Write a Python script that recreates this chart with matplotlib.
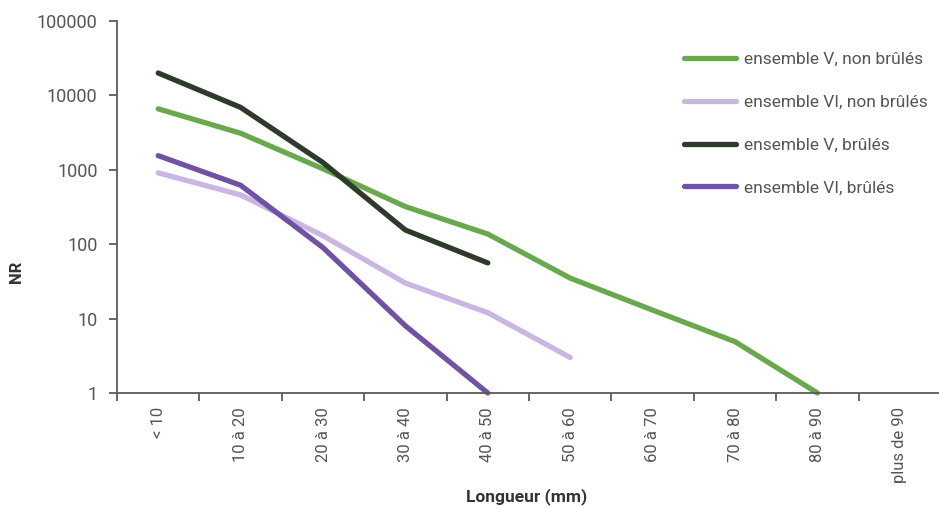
import numpy as np
import matplotlib.pyplot as plt
from matplotlib.ticker import FixedLocator, NullFormatter

plt.rcParams['font.family'] = ['Roboto', 'DejaVu Sans']

categories = ["< 10", "10 à 20", "20 à 30", "30 à 40", "40 à 50",
              "50 à 60", "60 à 70", "70 à 80", "80 à 90", "plus de 90"]

v_non_brules = [6600, 3100, 1030, 320, 137, 35, 13, 4.9, 1, np.nan]
vi_non_brules = [910, 460, 130, 30, 12, 3, np.nan, np.nan, np.nan, np.nan]
v_brules = [20000, 6900, 1250, 155, 56, np.nan, np.nan, np.nan, np.nan, np.nan]
vi_brules = [1550, 620, 90, 8, 1, np.nan, np.nan, np.nan, np.nan, np.nan]

series = [
    ("ensemble V, non brûlés", v_non_brules, "#6aa84f"),
    ("ensemble VI, non brûlés", vi_non_brules, "#c9b6e2"),
    ("ensemble V, brûlés", v_brules, "#2f3b2a"),
    ("ensemble VI, brûlés", vi_brules, "#6f52a3"),
]

fig = plt.figure(figsize=(9.39, 5.08), dpi=100)
ax = fig.add_axes([117 / 939, 1 - 393 / 508, 824 / 939, 372 / 508])

x = np.arange(len(categories)) + 0.5
for label, values, color in series:
    ax.plot(x, values, color=color, lw=3.8, label=label,
            solid_capstyle="round", solid_joinstyle="round", clip_on=False)

ax.set_yscale("log")
ax.set_ylim(1, 100000)
ax.set_xlim(0, len(categories))

yticks = [1, 10, 100, 1000, 10000, 100000]
ax.yaxis.set_major_locator(FixedLocator(yticks))
ax.yaxis.set_minor_locator(FixedLocator([]))
ax.set_yticklabels([str(t) for t in yticks])

ax.xaxis.set_major_locator(FixedLocator(np.arange(len(categories) + 1)))
ax.xaxis.set_major_formatter(NullFormatter())
ax.xaxis.set_minor_locator(FixedLocator(x))
ax.set_xticklabels(categories, minor=True, rotation=90, va="top")

spine_color = "#5a5a5a"
text_color = "#555555"
for side in ["top", "right"]:
    ax.spines[side].set_visible(False)
for side in ["left", "bottom"]:
    ax.spines[side].set_color(spine_color)
    ax.spines[side].set_linewidth(1.3)

ax.tick_params(axis="y", which="major", length=6, width=1.3, color=spine_color,
               labelsize=13, labelcolor=text_color, pad=8)
ax.tick_params(axis="x", which="major", length=6, width=1.3, color=spine_color)
ax.tick_params(axis="x", which="minor", length=0, pad=10,
               labelsize=12, labelcolor=text_color)

fig.text(17 / 939, 1 - 272 / 508, "NR", rotation=90, ha="center", va="center",
         fontsize=12, fontweight="bold", color="#333333")
fig.text(527 / 939, 1 - 497 / 508, "Longueur (mm)", ha="center", va="center",
         fontsize=12.5, fontweight="bold", color="#333333")

leg = fig.legend(loc="upper left", bbox_to_anchor=(668 / 939, 1 - 36 / 508),
                 frameon=False, handlelength=3.0, handletextpad=0.5,
                 labelspacing=1.6, fontsize=12.5)
for t in leg.get_texts():
    t.set_color(text_color)

fig.savefig("out.png", dpi=100)
